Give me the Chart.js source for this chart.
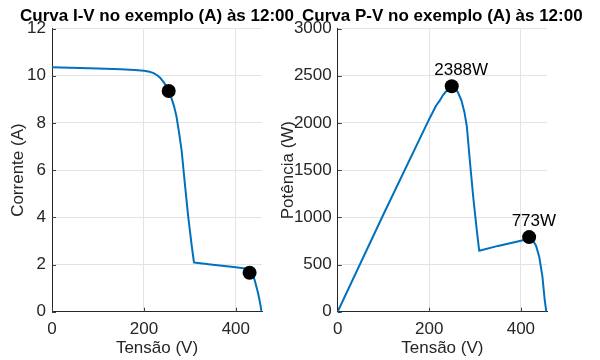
<!DOCTYPE html>
<html><head><meta charset="utf-8">
<script src="https://cdn.jsdelivr.net/npm/chart.js@4"></script>
<style>
html,body{margin:0;padding:0;background:#fff;width:600px;height:360px;overflow:hidden}
canvas{position:absolute;left:0;top:0}
</style></head>
<body>
<canvas id="iv" width="600" height="360"></canvas>
<canvas id="pv" width="600" height="360"></canvas>
<script>
// ---- data ----
const ivVoltage = [0, 100, 150, 180, 200, 210, 220, 228, 236, 242, 248, 254, 260, 266, 271, 276, 282, 289, 296, 304, 309, 350, 400, 420, 430, 436, 441, 445, 448.5, 451, 453.7, 456];
const ivCurrent = [10.36, 10.30, 10.27, 10.24, 10.21, 10.18, 10.12, 10.03, 9.90, 9.75, 9.58, 9.35, 9.05, 8.68, 8.26, 7.65, 6.85, 5.45, 4.10, 2.80, 2.08, 1.99, 1.88, 1.83, 1.78, 1.62, 1.34, 1.05, 0.78, 0.55, 0.28, 0];
const ivMarkerV = [254, 430];
const ivMarkerI = [9.35, 1.65];

const pvVoltage = [0, 100, 200, 215, 222, 230, 235, 243, 249, 255, 262, 270, 277, 282, 289, 296, 304, 309, 350, 400, 418, 425, 433, 440, 447, 452, 455.5];
const pvPower   = [0, 1032, 2042, 2184, 2230, 2295, 2325, 2365, 2388, 2375, 2330, 2240, 2107, 1960, 1575, 1210, 850, 645, 697, 752, 775, 765, 700, 583, 371, 124, 0];
const pvMarkerV = [249, 418];
const pvMarkerP = [2388, 790];
const pvMarkerLabels = ['2388W', '773W'];

const xTicks = [0, 200, 400];
const ivTicks = [0, 2, 4, 6, 8, 10, 12];
const pvTicks = [0, 500, 1000, 1500, 2000, 2500, 3000];
const xMax = 457;

const titles = ['Curva I-V no exemplo (A) às 12:00', 'Curva P-V no exemplo (A) às 12:00'];
const xLabel = 'Tensão (V)';
const yLabels = ['Corrente (A)', 'Potência (W)'];

// ---- styling ----
const FONT = '"Liberation Sans", Arial, Helvetica, sans-serif';
const TXT = '#262626';
const GRID = '#e3e3e3';
const BLUE = '#0072BD';

const titlePlugin = {
  id: 'mtitle',
  afterDraw(chart, args, opts) {
    const {ctx, chartArea} = chart;
    ctx.save();
    ctx.font = 'bold 17px ' + FONT;
    ctx.fillStyle = '#000';
    ctx.textAlign = 'center';
    ctx.textBaseline = 'alphabetic';
    ctx.fillText(opts.text, (chartArea.left + chartArea.right) / 2, 20.5);
    ctx.restore();
  }
};

const innerTicks = {
  id: 'innerTicks',
  beforeDatasetsDraw(chart) {
    const {ctx, chartArea, scales} = chart;
    ctx.save();
    ctx.strokeStyle = '#404040';
    ctx.lineWidth = 1;
    ctx.beginPath();
    scales.x.ticks.forEach(t => {
      const px = Math.round(scales.x.getPixelForValue(t.value)) + 0.5;
      ctx.moveTo(px, chartArea.bottom); ctx.lineTo(px, chartArea.bottom - 4);
    });
    scales.y.ticks.forEach(t => {
      const py = Math.round(scales.y.getPixelForValue(t.value)) + 0.5;
      ctx.moveTo(chartArea.left, py); ctx.lineTo(chartArea.left + 4, py);
    });
    ctx.stroke();
    ctx.restore();
  }
};

const pointLabels = {
  id: 'pointLabels',
  afterDatasetsDraw(chart, args, opts) {
    if (!opts.labels) return;
    const meta = chart.getDatasetMeta(1);
    const {ctx} = chart;
    ctx.save();
    ctx.font = '17px ' + FONT;
    ctx.fillStyle = '#000';
    ctx.textAlign = 'left';
    ctx.textBaseline = 'alphabetic';
    meta.data.forEach((pt, i) => {
      ctx.fillText(opts.labels[i], pt.x - 17.5, pt.y - 11);
    });
    ctx.restore();
  }
};

function makeChart(id, xs, ys, mx, my, yTicks, yMax, title, yLabel, pad, yWidth, labels) {
  const curve = xs.map((v, i) => ({x: v, y: ys[i]}));
  const marks = mx.map((v, i) => ({x: v, y: my[i]}));
  return new Chart(document.getElementById(id), {
    type: 'scatter',
    data: {
      datasets: [
        {data: curve, showLine: true, borderColor: BLUE, borderWidth: 2, pointRadius: 0,
         tension: 0, fill: false, order: 2, borderJoinStyle: 'round'},
        {data: marks, showLine: false, pointRadius: 7, pointBackgroundColor: '#000',
         pointBorderColor: '#000', pointBorderWidth: 0, order: 1}
      ]
    },
    plugins: [titlePlugin, innerTicks, pointLabels],
    options: {
      responsive: false,
      animation: false,
      devicePixelRatio: 1,
      layout: {padding: pad},
      plugins: {
        legend: {display: false},
        tooltip: {enabled: false},
        mtitle: {text: title},
        pointLabels: {labels: labels}
      },
      scales: {
        x: {
          type: 'linear', min: 0, max: xMax,
          afterBuildTicks: s => { s.ticks = xTicks.map(v => ({value: v})); },
          afterFit: s => { s.height = 48.3; },
          grid: {color: GRID, drawTicks: false, lineWidth: 1},
          border: {display: true, color: TXT, width: 1},
          ticks: {color: TXT, padding: 7, font: {family: FONT, size: 17}, maxRotation: 0,
                  callback: v => String(v)},
          title: {display: true, text: xLabel, color: TXT, font: {family: FONT, size: 17},
                  padding: {top: 0, bottom: 1}}
        },
        y: {
          type: 'linear', min: 0, max: yMax,
          afterBuildTicks: s => { s.ticks = yTicks.map(v => ({value: v})); },
          afterFit: s => { s.width = yWidth; },
          grid: {color: GRID, drawTicks: false, lineWidth: 1},
          border: {display: true, color: TXT, width: 1},
          ticks: {color: TXT, padding: 6, font: {family: FONT, size: 17},
                  callback: v => String(v)},
          title: {display: true, text: yLabel, color: TXT, font: {family: FONT, size: 17},
                  padding: {top: 8, bottom: 0}}
        }
      }
    }
  });
}

makeChart('iv', ivVoltage, ivCurrent, ivMarkerV, ivMarkerI, ivTicks, 12, titles[0], yLabels[0],
  {left: 0, right: 338, top: 28.5, bottom: 0}, 52, null);
makeChart('pv', pvVoltage, pvPower, pvMarkerV, pvMarkerP, pvTicks, 3000, titles[1], yLabels[1],
  {left: 270, right: 53, top: 28.5, bottom: 0}, 67.7, pvMarkerLabels);
</script>
</body></html>
